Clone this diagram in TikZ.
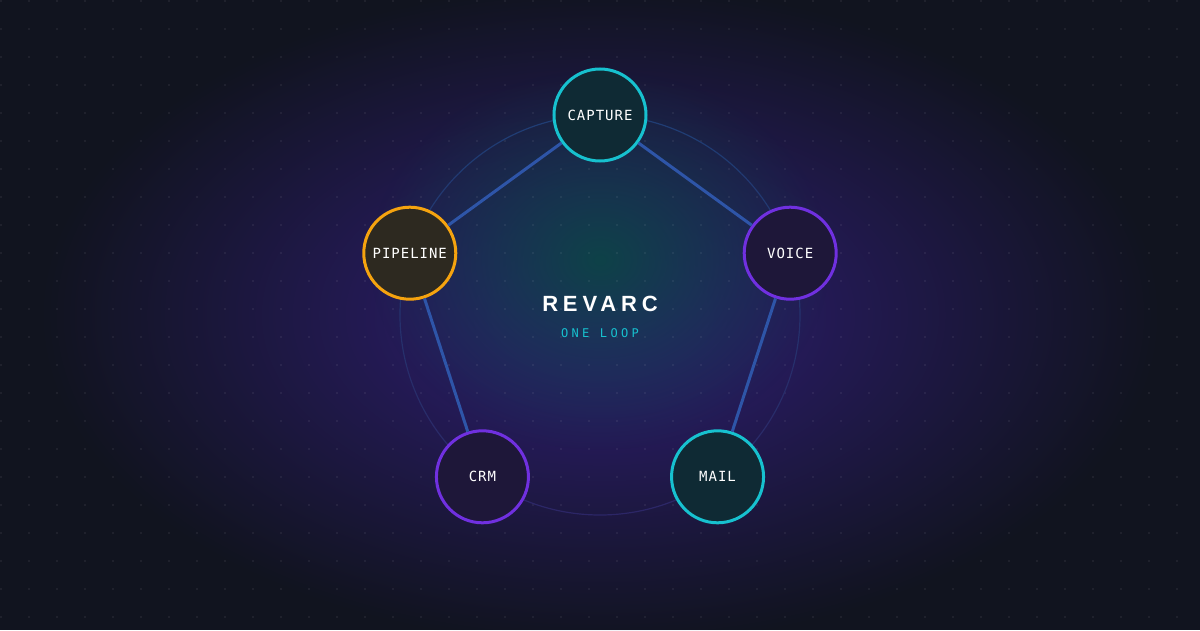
\documentclass[tikz,border=0pt]{standalone}
\usepackage{fontspec}
\setmainfont{Liberation Sans}
\setmonofont{DejaVu Sans Mono}
\newfontfamily\titlefont[LetterSpace=22]{Liberation Sans}
\newfontfamily\tagfont[LetterSpace=28]{DejaVu Sans Mono}
\newfontfamily\stagefont[LetterSpace=7]{DejaVu Sans Mono}
\usepackage{tikz}
\usetikzlibrary{fadings}
\tikzfading[name=glowfade, inner color=transparent!0, outer color=transparent!100]
\definecolor{bgdark}{HTML}{11141F}
\definecolor{glowpurple}{HTML}{301E77}
\definecolor{glowteal}{HTML}{0E4248}
\definecolor{loopcyan}{HTML}{17C1CF}
\definecolor{looppurple}{HTML}{7030E0}
\definecolor{loopamber}{HTML}{F5A30F}
\definecolor{cyanfill}{HTML}{0F2A34}
\definecolor{purplefill}{HTML}{1E1739}
\definecolor{amberfill}{HTML}{2D2920}
\definecolor{edgeblue}{HTML}{2E55A8}
\definecolor{ringblue}{HTML}{1F3E74}
\definecolor{ringpurple}{HTML}{2C2666}

\begin{document}
\begin{tikzpicture}[
      x=1pt, y=1pt,
      stage/.style={circle, draw, line width=3pt, minimum size=92pt, inner sep=0pt, text=white, font=\stagefont\fontsize{14}{14}\selectfont},
      link/.style={edgeblue, line width=3pt}
    ]
      % Background, glow and dot grid
      \useasboundingbox (-600,-315) rectangle (600,315);
      \fill[bgdark] (-600,-315) rectangle (600,315);
      \fill[glowpurple, path fading=glowfade] (0,0) ellipse (560 and 330);
      \fill[glowteal, path fading=glowfade] (0,55) ellipse (230 and 190);
      \foreach \i in {0,...,42}
        \foreach \j in {0,...,22}
          \fill[white, opacity=0.06] (28*\i-600,313-28*\j) rectangle ++(2,2);

      % Loop ring
      \foreach \a in {0,15,...,345} {
        \pgfmathsetmacro\mix{50+50*sin(\a+7.5)}
        \draw[ringblue!\mix!ringpurple, line width=1.2pt] (\a:200) arc[start angle=\a, end angle=\a+15, radius=200];
      }

      % Stages round the loop
      \node[stage, draw=loopcyan, fill=cyanfill] (capture) at (90:200) {CAPTURE};
      \node[stage, draw=looppurple, fill=purplefill] (voice) at (18:200) {VOICE};
      \node[stage, draw=loopcyan, fill=cyanfill] (mail) at (-54:200) {MAIL};
      \node[stage, draw=looppurple, fill=purplefill] (crm) at (-126:200) {CRM};
      \node[stage, draw=loopamber, fill=amberfill] (pipeline) at (162:200) {PIPELINE};

      % Centre title
      \node[text=white, font=\titlefont\bfseries\fontsize{22}{22}\selectfont] (title) at (0,11) {REVARC};
      \node[text=loopcyan, font=\tagfont\fontsize{12}{12}\selectfont] (tagline) at (0,-18) {ONE LOOP};

      % Links
      \draw[link] (capture) -- (voice);
      \draw[link] (voice) -- (mail);
      \draw[link] (capture) -- (pipeline);
      \draw[link] (pipeline) -- (crm);

    \end{tikzpicture}
\end{document}
